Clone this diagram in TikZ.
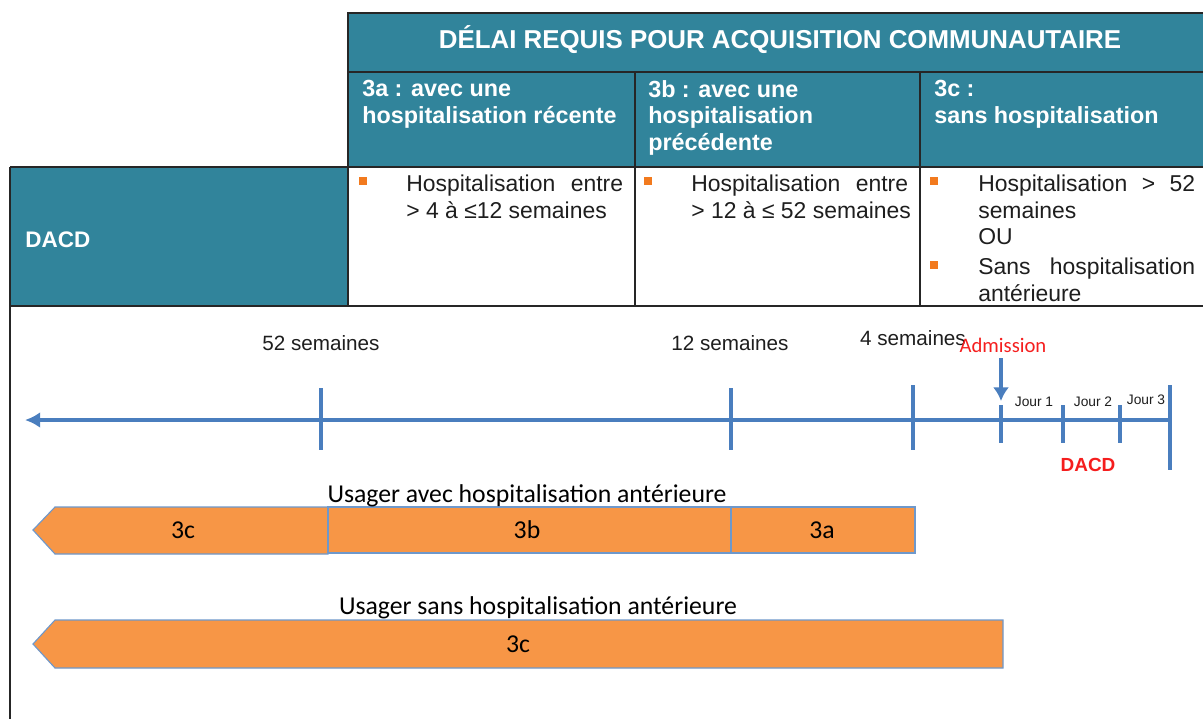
\documentclass[tikz,border=0pt]{standalone}
\usepackage{fontspec}
\setmainfont{Liberation Sans}
\newfontfamily\calibri{Carlito}
\usetikzlibrary{arrows.meta,positioning}

\definecolor{tealhead}{RGB}{49,132,155}
\definecolor{barorange}{RGB}{247,150,70}
\definecolor{bulletorange}{RGB}{242,122,30}
\definecolor{lineblue}{RGB}{74,126,190}
\definecolor{admred}{RGB}{245,30,30}
\definecolor{inkgray}{RGB}{30,30,30}

\begin{document}
\begin{tikzpicture}[x=0.025cm, y=-0.025cm, node distance=0.2cm and 0.2cm,
    every node/.style={inner sep=0pt},
    gridline/.style={draw=black!85, line width=1.1pt},
    headtitle/.style={text=white, font=\bfseries\fontsize{18.4}{20}\selectfont},
    subhead/.style={text=white, anchor=north west, align=left, font=\bfseries\fontsize{16.6}{18.8}\selectfont},
    dacdcell/.style={text=white, anchor=west, font=\bfseries\fontsize{16}{18}\selectfont},
    bodytext/.style={text=inkgray, anchor=north west, align=left, font=\fontsize{16.3}{18.6}\selectfont},
    bulletsq/.style={fill=bulletorange, minimum size=0.18cm},
    axis/.style={draw=lineblue, line width=2.5pt, -{Latex[length=0.38cm, width=0.4cm]}},
    tickline/.style={draw=lineblue, line width=2.2pt},
    weeklabel/.style={text=inkgray, font=\fontsize{14.7}{16}\selectfont},
    jourlabel/.style={text=inkgray, font=\fontsize{9.8}{11}\selectfont},
    admlabel/.style={text=admred, font=\calibri\fontsize{14.7}{16}\selectfont},
    admarrow/.style={draw=lineblue, line width=2.2pt, -{Latex[length=0.34cm, width=0.4cm]}},
    dacdred/.style={text=admred, font=\bfseries\fontsize{13.5}{15}\selectfont},
    bar/.style={fill=barorange, draw=lineblue!80, line width=0.8pt},
    barlabel/.style={text=black, font=\calibri\fontsize{18.3}{20}\selectfont}]
  \useasboundingbox (0,0) rectangle (1203,719);

  % table
  \fill[tealhead] (348,13) rectangle (1203,167);
  \fill[tealhead] (10,167) rectangle (348,306);
  \draw[gridline] (1203,13) -- (348,13) -- (348,306);
  \draw[gridline] (348,72) -- (1203,72);
  \draw[gridline] (10,167) -- (1203,167);
  \draw[gridline] (10,306) -- (1203,306);
  \draw[gridline] (10,167) -- (10,719);
  \draw[gridline] (635,72) -- (635,306);
  \draw[gridline] (920,72) -- (920,306);

  \node[headtitle] (title) at (780,40) {DÉLAI REQUIS POUR ACQUISITION COMMUNAUTAIRE};
  \node[subhead] (sub3a) at (362,80) {3a : avec une\\hospitalisation récente};
  \node[subhead] (sub3b) at (648,80) {3b : avec une\\hospitalisation\\précédente};
  \node[subhead] (sub3c) at (934,80) {3c :\\sans hospitalisation};
  \node[dacdcell] (dacd) at (25,240) {DACD};

  \node[bulletsq] (b3a) at (363,181) {};
  \node[bodytext] (t3a) at (406,175) {\makebox[5.42cm][s]{Hospitalisation entre}\\> 4 à ≤12 semaines};
  \node[bulletsq] (b3b) at (648,181) {};
  \node[bodytext] (t3b) at (691,175) {\makebox[5.42cm][s]{Hospitalisation entre}\\> 12 à ≤ 52 semaines};
  \node[bulletsq] (b3c) at (934,181) {};
  \node[bodytext] (t3c) at (978,175) {\makebox[5.42cm][s]{Hospitalisation > 52}\\semaines\\OU};
  \node[bulletsq] (b3d) at (934,265) {};
  \node[bodytext] (t3d) at (978,258) {\makebox[5.42cm][s]{Sans hospitalisation}\\antérieure};

  % timeline
  \coordinate (axR) at (1170,420);
  \coordinate (axL) at (25,420);
  \draw[axis] (axR) -- (axL);
  \foreach \x/\a/\b in {321/388/450, 731/388/450, 913/385/450, 1001/405/443, 1063/405/443, 1120/405/443, 1170/385/470}
    \draw[tickline] (\x,\a) -- (\x,\b);

  \node[weeklabel] (w52) at (321,343) {52 semaines};
  \node[weeklabel] (w12) at (730,343) {12 semaines};
  \node[weeklabel] (w4) at (913,338) {4 semaines};
  \node[admlabel] (adm) at (1003,345) {Admission};
  \coordinate (admtop) at (1001,358);
  \coordinate (admtip) at (1001,401);
  \draw[admarrow] (admtop) -- (admtip);
  \node[jourlabel] (j1) at (1034,402) {Jour 1};
  \node[jourlabel] (j2) at (1093,402) {Jour 2};
  \node[jourlabel] (j3) at (1146,400) {Jour 3};
  \node[dacdred] (dred) at (1088,465) {DACD};

  % bars
  \filldraw[bar] (33,530) -- (55,507) -- (328,507) -- (328,554) -- (55,554) -- cycle;
  \filldraw[bar] (328,507) rectangle (731,553);
  \filldraw[bar] (731,507) rectangle (915,553);
  \node[barlabel] (usA) at (527,496) {Usager avec hospitalisation antérieure};
  \node[barlabel] (a3c) at (183,530) {3c};
  \node[barlabel] (a3b) at (527,530) {3b};
  \node[barlabel] (a3a) at (822,530) {3a};

  \filldraw[bar] (33,644) -- (55,620) -- (1003,620) -- (1003,668) -- (55,668) -- cycle;
  \node[barlabel] (usB) at (538,608) {Usager sans hospitalisation antérieure};
  \node[barlabel] (b3cbar) at (518,644) {3c};
\end{tikzpicture}
\end{document}
